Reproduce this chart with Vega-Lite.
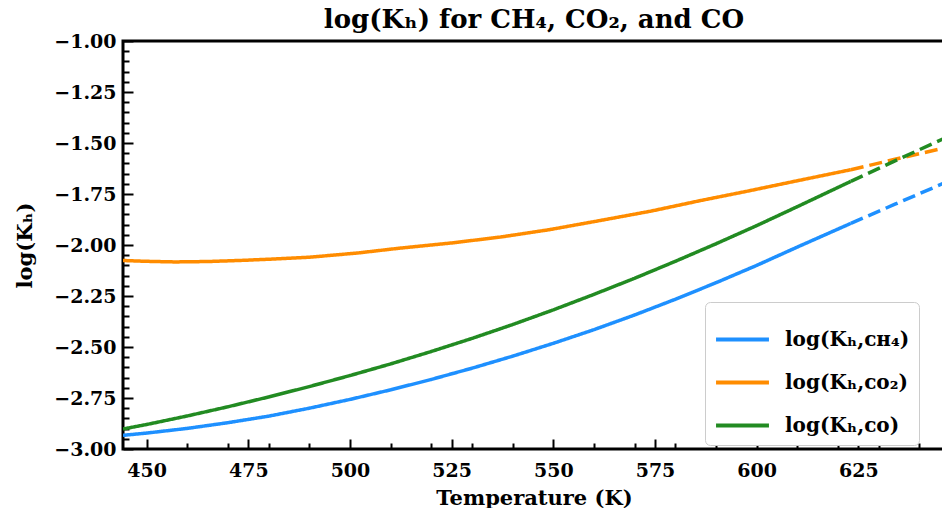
{
  "$schema": "https://vega.github.io/schema/vega-lite/v6.json",
  "autosize": "none",
  "width": 822,
  "height": 408,
  "padding": {"left": 123, "top": 41, "right": -3, "bottom": 59},
  "background": "white",
  "config": {
    "font": "DejaVu Serif",
    "view": {"stroke": "black", "strokeWidth": 3},
    "axis": {"grid": false, "domain": false}
  },
  "title": {
    "text": "log(Kₕ) for CH₄, CO₂, and CO",
    "font": "DejaVu Serif",
    "fontSize": 26,
    "fontWeight": "bold",
    "color": "black",
    "anchor": "middle",
    "frame": "group",
    "offset": -1
  },
  "data": {
    "values": [
      {"T": 444.2, "v": -2.076, "series": "CO2", "seg": "solid"},
      {"T": 450, "v": -2.080, "series": "CO2", "seg": "solid"},
      {"T": 457, "v": -2.083, "series": "CO2", "seg": "solid"},
      {"T": 465, "v": -2.081, "series": "CO2", "seg": "solid"},
      {"T": 474, "v": -2.075, "series": "CO2", "seg": "solid"},
      {"T": 482, "v": -2.068, "series": "CO2", "seg": "solid"},
      {"T": 490, "v": -2.060, "series": "CO2", "seg": "solid"},
      {"T": 502, "v": -2.039, "series": "CO2", "seg": "solid"},
      {"T": 512, "v": -2.016, "series": "CO2", "seg": "solid"},
      {"T": 525, "v": -1.990, "series": "CO2", "seg": "solid"},
      {"T": 537, "v": -1.961, "series": "CO2", "seg": "solid"},
      {"T": 549, "v": -1.925, "series": "CO2", "seg": "solid"},
      {"T": 561.5, "v": -1.880, "series": "CO2", "seg": "solid"},
      {"T": 574, "v": -1.834, "series": "CO2", "seg": "solid"},
      {"T": 586, "v": -1.783, "series": "CO2", "seg": "solid"},
      {"T": 598, "v": -1.735, "series": "CO2", "seg": "solid"},
      {"T": 610, "v": -1.685, "series": "CO2", "seg": "solid"},
      {"T": 623.15, "v": -1.631, "series": "CO2", "seg": "solid"},
      {"T": 623.15, "v": -1.631, "series": "CO2", "seg": "dashed"},
      {"T": 634, "v": -1.580, "series": "CO2", "seg": "dashed"},
      {"T": 646, "v": -1.525, "series": "CO2", "seg": "dashed"},

      {"T": 444.2, "v": -2.902, "series": "CO", "seg": "solid"},
      {"T": 450, "v": -2.880, "series": "CO", "seg": "solid"},
      {"T": 460, "v": -2.838, "series": "CO", "seg": "solid"},
      {"T": 470, "v": -2.793, "series": "CO", "seg": "solid"},
      {"T": 480, "v": -2.745, "series": "CO", "seg": "solid"},
      {"T": 490, "v": -2.694, "series": "CO", "seg": "solid"},
      {"T": 500, "v": -2.640, "series": "CO", "seg": "solid"},
      {"T": 510, "v": -2.583, "series": "CO", "seg": "solid"},
      {"T": 520, "v": -2.522, "series": "CO", "seg": "solid"},
      {"T": 530, "v": -2.458, "series": "CO", "seg": "solid"},
      {"T": 540, "v": -2.390, "series": "CO", "seg": "solid"},
      {"T": 550, "v": -2.318, "series": "CO", "seg": "solid"},
      {"T": 560, "v": -2.242, "series": "CO", "seg": "solid"},
      {"T": 570, "v": -2.163, "series": "CO", "seg": "solid"},
      {"T": 580, "v": -2.080, "series": "CO", "seg": "solid"},
      {"T": 590, "v": -1.994, "series": "CO", "seg": "solid"},
      {"T": 600, "v": -1.905, "series": "CO", "seg": "solid"},
      {"T": 610, "v": -1.812, "series": "CO", "seg": "solid"},
      {"T": 623.15, "v": -1.688, "series": "CO", "seg": "solid"},
      {"T": 623.15, "v": -1.688, "series": "CO", "seg": "dashed"},
      {"T": 634, "v": -1.588, "series": "CO", "seg": "dashed"},
      {"T": 646, "v": -1.478, "series": "CO", "seg": "dashed"},

      {"T": 444.2, "v": -2.933, "series": "CH4", "seg": "solid"},
      {"T": 450, "v": -2.922, "series": "CH4", "seg": "solid"},
      {"T": 460, "v": -2.899, "series": "CH4", "seg": "solid"},
      {"T": 470, "v": -2.871, "series": "CH4", "seg": "solid"},
      {"T": 480, "v": -2.839, "series": "CH4", "seg": "solid"},
      {"T": 490, "v": -2.800, "series": "CH4", "seg": "solid"},
      {"T": 500, "v": -2.757, "series": "CH4", "seg": "solid"},
      {"T": 510, "v": -2.710, "series": "CH4", "seg": "solid"},
      {"T": 520, "v": -2.659, "series": "CH4", "seg": "solid"},
      {"T": 530, "v": -2.604, "series": "CH4", "seg": "solid"},
      {"T": 540, "v": -2.545, "series": "CH4", "seg": "solid"},
      {"T": 550, "v": -2.482, "series": "CH4", "seg": "solid"},
      {"T": 560, "v": -2.415, "series": "CH4", "seg": "solid"},
      {"T": 570, "v": -2.343, "series": "CH4", "seg": "solid"},
      {"T": 580, "v": -2.266, "series": "CH4", "seg": "solid"},
      {"T": 590, "v": -2.185, "series": "CH4", "seg": "solid"},
      {"T": 600, "v": -2.100, "series": "CH4", "seg": "solid"},
      {"T": 610, "v": -2.010, "series": "CH4", "seg": "solid"},
      {"T": 623.15, "v": -1.894, "series": "CH4", "seg": "solid"},
      {"T": 623.15, "v": -1.894, "series": "CH4", "seg": "dashed"},
      {"T": 634, "v": -1.800, "series": "CH4", "seg": "dashed"},
      {"T": 646, "v": -1.697, "series": "CH4", "seg": "dashed"}
    ]
  },
  "mark": {"type": "line", "strokeWidth": 3.5, "clip": true},
  "encoding": {
    "x": {
      "field": "T",
      "type": "quantitative",
      "scale": {"domain": [444.2, 646.3], "nice": false, "zero": false},
      "axis": {
        "title": "Temperature (K)",
        "titleFont": "DejaVu Serif",
        "titleFontSize": 21,
        "titleFontWeight": "bold",
        "titleColor": "black",
        "titlePadding": 3,
        "values": [450, 460, 470, 475, 480, 490, 500, 510, 520, 525, 530, 540, 550, 560, 570, 575, 580, 590, 600, 610, 620, 625, 630, 640],
        "labelExpr": "datum.value % 25 === 0 ? format(datum.value, 'd') : ''",
        "labelFont": "DejaVu Serif",
        "labelFontSize": 19,
        "labelFontWeight": "bold",
        "labelColor": "black",
        "labelOverlap": false,
        "labelFlush": false,
        "labelPadding": 22,
        "tickColor": "black",
        "tickWidth": 2,
        "tickSize": {"condition": {"test": "datum.value % 25 === 0", "value": -10}, "value": -6}
      }
    },
    "y": {
      "field": "v",
      "type": "quantitative",
      "scale": {"domain": [-3, -1], "nice": false, "zero": false},
      "axis": {
        "title": "log(Kₕ)",
        "titleFont": "DejaVu Serif",
        "titleFontSize": 21,
        "titleFontWeight": "bold",
        "titleColor": "black",
        "titlePadding": 18,
        "values": [-3, -2.95, -2.9, -2.85, -2.8, -2.75, -2.7, -2.65, -2.6, -2.55, -2.5, -2.45, -2.4, -2.35, -2.3, -2.25, -2.2, -2.15, -2.1, -2.05, -2, -1.95, -1.9, -1.85, -1.8, -1.75, -1.7, -1.65, -1.6, -1.55, -1.5, -1.45, -1.4, -1.35, -1.3, -1.25, -1.2, -1.15, -1.1, -1.05, -1],
        "labelExpr": "abs(datum.value * 4 - round(datum.value * 4)) < 0.001 ? format(datum.value, '.2f') : ''",
        "labelFont": "DejaVu Serif",
        "labelFontSize": 19,
        "labelFontWeight": "bold",
        "labelColor": "black",
        "labelOverlap": false,
        "labelFlush": false,
        "labelPadding": 17,
        "tickColor": "black",
        "tickWidth": 2,
        "tickSize": {"condition": {"test": "abs(datum.value * 4 - round(datum.value * 4)) < 0.001", "value": -10}, "value": -6}
      }
    },
    "color": {
      "field": "series",
      "type": "nominal",
      "scale": {"domain": ["CH4", "CO2", "CO"], "range": ["#1e90ff", "#ff8c00", "#228b22"]},
      "legend": {
        "title": null,
        "orient": "none",
        "legendX": 582,
        "legendY": 261,
        "symbolType": "stroke",
        "symbolSize": 2800,
        "symbolStrokeWidth": 4,
        "labelExpr": "datum.label == 'CH4' ? 'log(Kₕ,ᴄʜ₄)' : datum.label == 'CO2' ? 'log(Kₕ,ᴄᴏ₂)' : 'log(Kₕ,ᴄᴏ)'",
        "labelFont": "DejaVu Serif",
        "labelFontSize": 20,
        "labelFontWeight": "bold",
        "labelColor": "black",
        "labelOffset": 14,
        "rowPadding": 4,
        "padding": 9,
        "fillColor": "white",
        "strokeColor": "#cccccc",
        "cornerRadius": 5
      }
    },
    "strokeDash": {
      "field": "seg",
      "type": "nominal",
      "scale": {"domain": ["solid", "dashed"], "range": [[1, 0], [13, 6]]},
      "legend": null
    },
    "order": {"field": "T", "type": "quantitative"}
  }
}
